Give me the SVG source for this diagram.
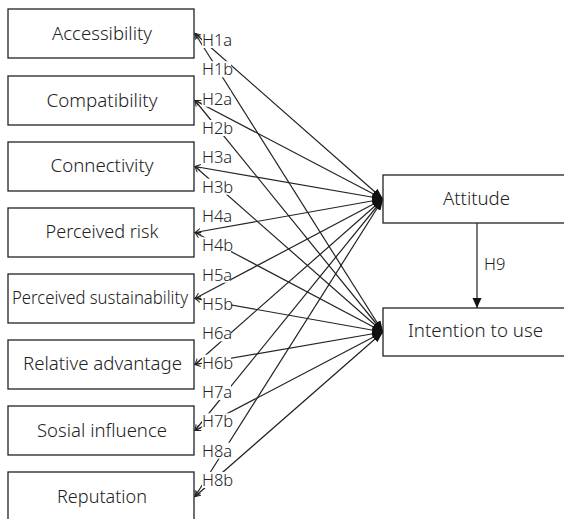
<svg xmlns="http://www.w3.org/2000/svg" width="564" height="519" viewBox="0 0 564 519">
<style>
.box{fill:#fff;stroke:#222;stroke-width:1.3}
.bt{font-family:"Noto Sans","Liberation Sans",sans-serif;font-size:19px;font-weight:300;fill:#222;text-anchor:middle}
.lb{font-family:"Noto Sans","Liberation Sans",sans-serif;font-size:16.5px;font-weight:300;fill:#222}
.lbg{fill:#fff}
.ln{stroke:#222;stroke-width:1.2;fill:none;marker-end:url(#ah);marker-start:url(#sh)}
.v{stroke:#222;stroke-width:1.2;fill:none;marker-end:url(#ah2)}
</style>
<defs>
<marker id="ah" markerUnits="userSpaceOnUse" markerWidth="11" markerHeight="8" refX="11" refY="4" orient="auto"><path d="M0,0 L11,4 L0,8 z" fill="#111"/></marker>
<marker id="ah2" markerUnits="userSpaceOnUse" markerWidth="10" markerHeight="10" refX="10" refY="4.5" orient="auto"><path d="M0,0 L10,4.5 L0,9 z" fill="#111"/></marker>
<marker id="sh" markerUnits="userSpaceOnUse" markerWidth="8" markerHeight="8" refX="6" refY="3.5" orient="auto-start-reverse"><path d="M0.5,0.5 L6,3.5 L0.5,6.5" fill="none" stroke="#222" stroke-width="1"/></marker>
</defs>
<rect width="564" height="519" fill="#fff"/>
<g id="connectors">
<line class="ln" x1="195" y1="33.5" x2="383" y2="199"/>
<line class="ln" x1="195" y1="33.5" x2="383" y2="332"/>
<line class="ln" x1="195" y1="100.5" x2="383" y2="199"/>
<line class="ln" x1="195" y1="100.5" x2="383" y2="332"/>
<line class="ln" x1="195" y1="166.5" x2="383" y2="199"/>
<line class="ln" x1="195" y1="166.5" x2="383" y2="332"/>
<line class="ln" x1="195" y1="232.5" x2="383" y2="199"/>
<line class="ln" x1="195" y1="232.5" x2="383" y2="332"/>
<line class="ln" x1="195" y1="298.5" x2="383" y2="199"/>
<line class="ln" x1="195" y1="298.5" x2="383" y2="332"/>
<line class="ln" x1="195" y1="364.5" x2="383" y2="199"/>
<line class="ln" x1="195" y1="364.5" x2="383" y2="332"/>
<line class="ln" x1="195" y1="430.5" x2="383" y2="199"/>
<line class="ln" x1="195" y1="430.5" x2="383" y2="332"/>
<line class="ln" x1="195" y1="496.5" x2="383" y2="199"/>
<line class="ln" x1="195" y1="496.5" x2="383" y2="332"/>
<line class="v" x1="477" y1="223" x2="477" y2="308"/>
<g id="labels">
<rect class="lbg" x="202" y="32" width="29" height="16"/><text class="lb" x="202" y="46">H1a</text>
<rect class="lbg" x="202" y="61.3" width="29" height="16"/><text class="lb" x="202" y="75.3">H1b</text>
<rect class="lbg" x="202" y="90.7" width="29" height="16"/><text class="lb" x="202" y="104.7">H2a</text>
<rect class="lbg" x="202" y="120" width="29" height="16"/><text class="lb" x="202" y="134">H2b</text>
<rect class="lbg" x="202" y="149.3" width="29" height="16"/><text class="lb" x="202" y="163.3">H3a</text>
<rect class="lbg" x="202" y="178.7" width="29" height="16"/><text class="lb" x="202" y="192.7">H3b</text>
<rect class="lbg" x="202" y="208" width="29" height="16"/><text class="lb" x="202" y="222">H4a</text>
<rect class="lbg" x="202" y="237.3" width="29" height="16"/><text class="lb" x="202" y="251.3">H4b</text>
<rect class="lbg" x="202" y="266.7" width="29" height="16"/><text class="lb" x="202" y="280.7">H5a</text>
<rect class="lbg" x="202" y="296" width="29" height="16"/><text class="lb" x="202" y="310">H5b</text>
<rect class="lbg" x="202" y="325.3" width="29" height="16"/><text class="lb" x="202" y="339.3">H6a</text>
<rect class="lbg" x="202" y="354.7" width="29" height="16"/><text class="lb" x="202" y="368.7">H6b</text>
<rect class="lbg" x="202" y="384" width="29" height="16"/><text class="lb" x="202" y="398">H7a</text>
<rect class="lbg" x="202" y="413.3" width="29" height="16"/><text class="lb" x="202" y="427.3">H7b</text>
<rect class="lbg" x="202" y="442.7" width="29" height="16"/><text class="lb" x="202" y="456.7">H8a</text>
<rect class="lbg" x="202" y="472" width="29" height="16"/><text class="lb" x="202" y="486">H8b</text>
<text class="lb" x="484" y="270">H9</text>
</g>
</g>
<g id="n1"><rect class="box" x="8" y="9" width="186" height="49"/><text class="bt" x="102" y="40" textLength="100" lengthAdjust="spacingAndGlyphs">Accessibility</text></g>
<g id="n2"><rect class="box" x="8" y="76" width="186" height="49"/><text class="bt" x="102" y="107" textLength="111" lengthAdjust="spacingAndGlyphs">Compatibility</text></g>
<g id="n3"><rect class="box" x="8" y="142" width="186" height="49"/><text class="bt" x="102" y="172" textLength="103" lengthAdjust="spacingAndGlyphs">Connectivity</text></g>
<g id="n4"><rect class="box" x="8" y="208" width="186" height="49"/><text class="bt" x="102" y="238" textLength="113" lengthAdjust="spacingAndGlyphs">Perceived risk</text></g>
<g id="n5"><rect class="box" x="8" y="274" width="186" height="49"/><text class="bt" x="100" y="304" style="font-size:17.5px" textLength="176" lengthAdjust="spacingAndGlyphs">Perceived sustainability</text></g>
<g id="n6"><rect class="box" x="8" y="340" width="186" height="49"/><text class="bt" x="102.5" y="370" textLength="159" lengthAdjust="spacingAndGlyphs">Relative advantage</text></g>
<g id="n7"><rect class="box" x="8" y="406" width="186" height="49"/><text class="bt" x="102" y="436.5" textLength="130" lengthAdjust="spacingAndGlyphs">Sosial influence</text></g>
<g id="n8"><rect class="box" x="8" y="472" width="186" height="49"/><text class="bt" x="102" y="503" textLength="90" lengthAdjust="spacingAndGlyphs">Reputation</text></g>
<g id="n9"><rect class="box" x="383" y="175" width="186" height="48"/><text class="bt" x="476.5" y="205" textLength="67" lengthAdjust="spacingAndGlyphs">Attitude</text></g>
<g id="n10"><rect class="box" x="383" y="308" width="186" height="48"/><text class="bt" x="475.5" y="337" textLength="135" lengthAdjust="spacingAndGlyphs">Intention to use</text></g>
</svg>
